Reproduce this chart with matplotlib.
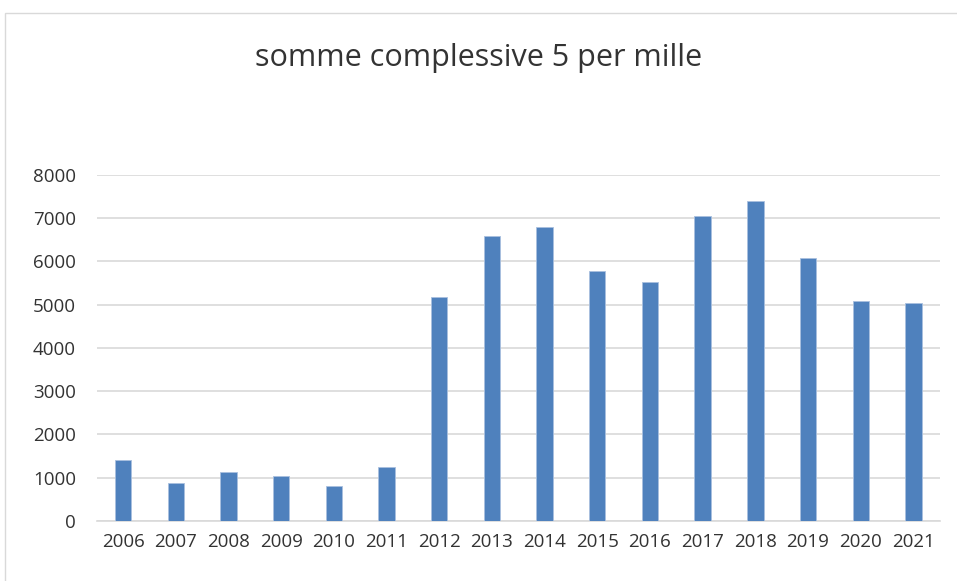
import matplotlib
matplotlib.use("Agg")
import matplotlib.pyplot as plt
from matplotlib.patches import Rectangle
import numpy as np

years = ["2006", "2007", "2008", "2009", "2010", "2011", "2012", "2013",
         "2014", "2015", "2016", "2017", "2018", "2019", "2020", "2021"]
values = [1400, 880, 1140, 1040, 800, 1250, 5190, 6600,
          6790, 5770, 5530, 7050, 7400, 6090, 5080, 5050]
y_ticks = [0, 1000, 2000, 3000, 4000, 5000, 6000, 7000, 8000]

plt.rcParams["font.family"] = ["Open Sans", "DejaVu Sans"]

fig = plt.figure(figsize=(9.57, 5.81), dpi=100)
ax = fig.add_axes([0.101, 0.1033, 0.881, 0.5955])

x = np.arange(len(years))
ax.bar(x, values, width=0.31, color="#4F81BD", edgecolor="#A9C0DF", linewidth=0.6, zorder=3)

ax.set_xlim(-0.5, len(years) - 0.5)
ax.set_ylim(0, 8000)
ax.set_yticks(y_ticks)
ax.set_yticklabels([str(v) for v in y_ticks])
ax.set_xticks(x)
ax.set_xticklabels(years)
ax.grid(True, axis="y", color="#D9D9D9", lw=1.2, zorder=0)
for s in ["top", "right", "left"]:
    ax.spines[s].set_visible(False)
ax.spines["bottom"].set_color("#D9D9D9")
ax.spines["bottom"].set_linewidth(1.2)
ax.tick_params(axis="both", length=0, labelsize=13.5, labelcolor="#333333")
ax.tick_params(axis="y", pad=15)
ax.tick_params(axis="x", pad=9)

fig.text(0.5, 0.9, "somme complessive 5 per mille", ha="center", va="center",
         fontsize=22, color="#333333")

fig.patches.append(Rectangle((5 / 957, -0.01), 0.999, 1 - 13 / 581 + 0.01,
                             transform=fig.transFigure, fill=False,
                             edgecolor="#D9D9D9", lw=1))

fig.savefig("out.png", dpi=100)
